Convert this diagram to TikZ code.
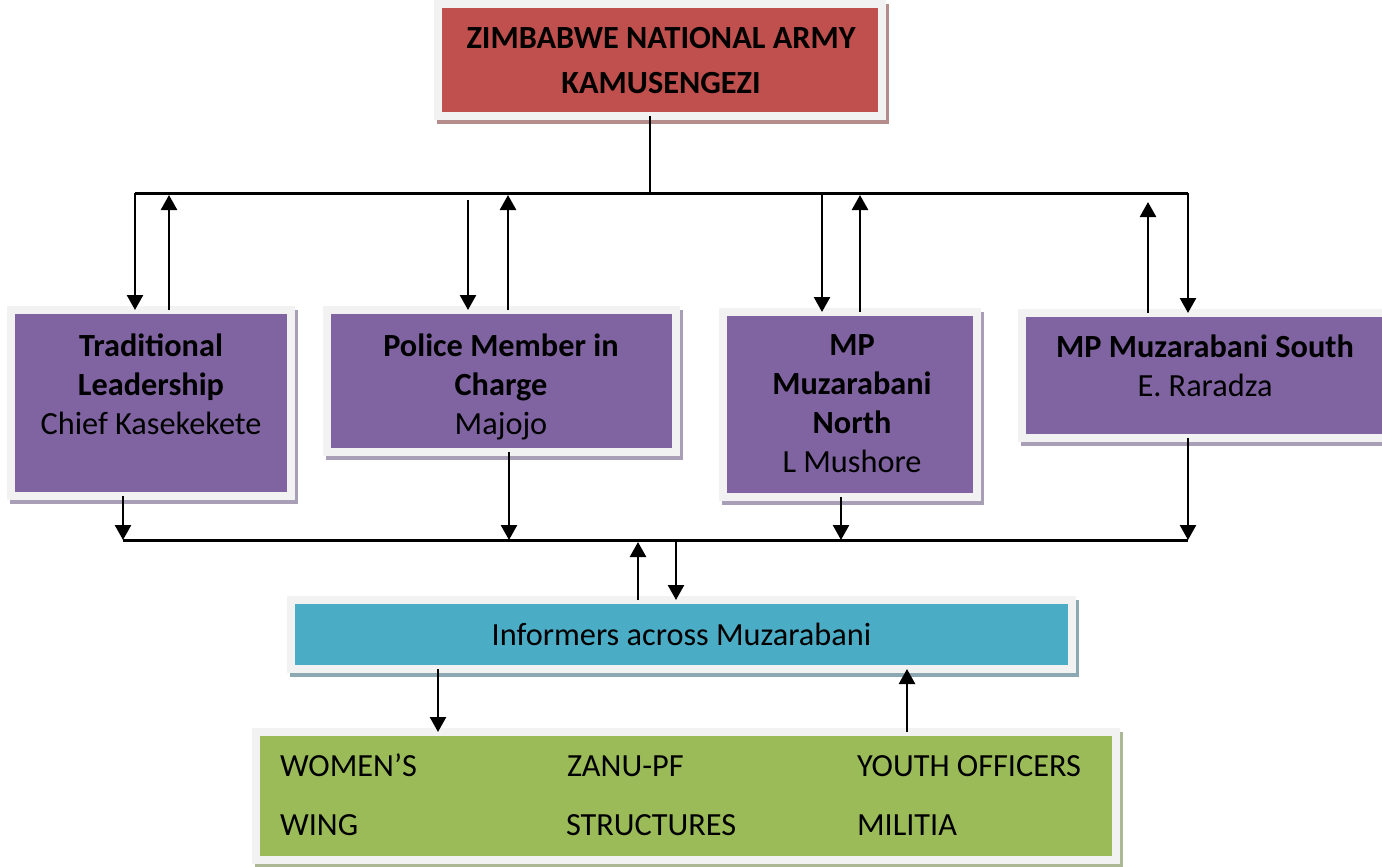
\documentclass[tikz,border=0pt]{standalone}
\usepackage{fontspec}
\setmainfont{Carlito}
\usetikzlibrary{arrows.meta}
\definecolor{frameg}{HTML}{F2F2F2}
\definecolor{redf}{HTML}{C0504D}
\definecolor{redsh}{RGB}{180,140,140}
\definecolor{purf}{HTML}{8064A2}
\definecolor{pursh}{RGB}{168,158,182}
\definecolor{bluef}{HTML}{4BACC6}
\definecolor{bluesh}{RGB}{140,168,178}
\definecolor{greenf}{HTML}{9BBB59}
\definecolor{greensh}{RGB}{172,184,148}
\begin{document}
\begin{tikzpicture}[x=1pt,y=-1pt,
  box/.style n args={2}{rectangle, inner sep=0pt, outer sep=0pt, fill=#1, draw=frameg, line width=8pt,
    preaction={fill=#2, draw=#2, line width=8pt, transform canvas={shift={(2.5pt,-4pt)}}}},
  lbl/.style={inner sep=0pt, outer sep=0pt, font=\fontsize{32.3}{39}\selectfont, align=center},
  gtx/.style={inner sep=0pt, outer sep=0pt, font=\fontsize{32.3}{39}\selectfont, anchor=base west},
  arr/.style={line width=2.5pt, -{Triangle[width=16pt,length=15pt]}},
  bus/.style={line width=3pt},
]
\useasboundingbox[fill=white] (0,0) rectangle (1382,867);

% boxes
\node[box={redf}{redsh}, minimum width=444pt, minimum height=112pt] (army) at (660,60) {};
\node[box={purf}{pursh}, minimum width=280pt, minimum height=186pt] (trad) at (151,403) {};
\node[box={purf}{pursh}, minimum width=349pt, minimum height=142pt] (police) at (501.5,381) {};
\node[box={purf}{pursh}, minimum width=254pt, minimum height=185pt] (north) at (850,404.5) {};
\node[box={purf}{pursh}, minimum width=378pt, minimum height=125pt] (south) at (1211,375.5) {};
\node[box={bluef}{bluesh}, minimum width=781pt, minimum height=69pt] (inform) at (681.5,634.5) {};
\node[box={greenf}{greensh}, minimum width=860pt, minimum height=128pt] (green) at (686,796) {};

% texts
\node[lbl, anchor=north, font=\bfseries\fontsize{32.3}{45}\selectfont] (armyt) at (661,27) {ZIMBABWE NATIONAL ARMY\\KAMUSENGEZI};
\node[lbl, anchor=north] (tradt) at (151,334) {\textbf{Traditional}\\\textbf{Leadership}\\Chief Kasekekete};
\node[lbl, anchor=north] (policet) at (501,334) {\textbf{Police Member in}\\\textbf{Charge}\\Majojo};
\node[lbl, anchor=north] (northt) at (852,335) {\textbf{MP}\\\textbf{Muzarabani}\\\textbf{North}\\L Mushore};
\node[lbl, anchor=north] (southt) at (1205,335) {\textbf{MP Muzarabani South}\\E. Raradza};
\node[lbl, anchor=base] (informt) at (681.5,645) {Informers across Muzarabani};
\node[gtx] (g1) at (280,776) {WOMEN’S};
\node[gtx] (g2) at (280,835) {WING};
\node[gtx] (g3) at (567,776) {ZANU-PF};
\node[gtx] (g4) at (566,835) {STRUCTURES};
\node[gtx] (g5) at (857,776) {YOUTH OFFICERS};
\node[gtx] (g6) at (857,835) {MILITIA};

% buses
\coordinate (tL) at (135,193);
\coordinate (tR) at (1188,193);
\coordinate (bL) at (123,540);
\coordinate (bR) at (1188,540);
\coordinate (ax) at (650,193);
\draw[bus] (tL) -- (tR);
\draw[bus] (bL) -- (bR);
\draw[line width=2pt] (ax |- army.south) -- (ax);

% top arrows
\coordinate (a1) at (135,193);
\coordinate (a2) at (169,195);
\coordinate (a3) at (468,200);
\coordinate (a4) at (508,195);
\coordinate (a5) at (822,193);
\coordinate (a6) at (860,195);
\coordinate (a7) at (1148,202);
\coordinate (a8) at (1188,193);
\draw[arr] (a1) -- (a1 |- trad.north);
\draw[arr] (a2 |- trad.north) -- (a2);
\draw[arr] (a3) -- (a3 |- police.north);
\draw[arr] (a4 |- police.north) -- (a4);
\draw[arr] (a5) -- (a5 |- north.north);
\draw[arr] (a6 |- north.north) -- (a6);
\draw[arr] (a7 |- south.north) -- (a7);
\draw[arr] (a8) -- (a8 |- south.north);

% bottom arrows
\coordinate (b1) at (123,540);
\coordinate (b2) at (509,540);
\coordinate (b3) at (841,540);
\coordinate (b4) at (1188,540);
\draw[arr] (b1 |- trad.south) -- (b1);
\draw[arr] (b2 |- police.south) -- (b2);
\draw[arr] (b3 |- north.south) -- (b3);
\draw[arr] (b4 |- south.south) -- (b4);

% informers
\coordinate (c1) at (638,542);
\coordinate (c2) at (676,540);
\draw[arr] (c1 |- inform.north) -- (c1);
\draw[arr] (c2) -- (c2 |- inform.north);
\coordinate (d1) at (438,700);
\coordinate (d2) at (907,700);
\draw[arr] (d1 |- inform.south) -- (d1 |- green.north);
\draw[arr] (d2 |- green.north) -- (d2 |- inform.south);
\end{tikzpicture}
\end{document}
